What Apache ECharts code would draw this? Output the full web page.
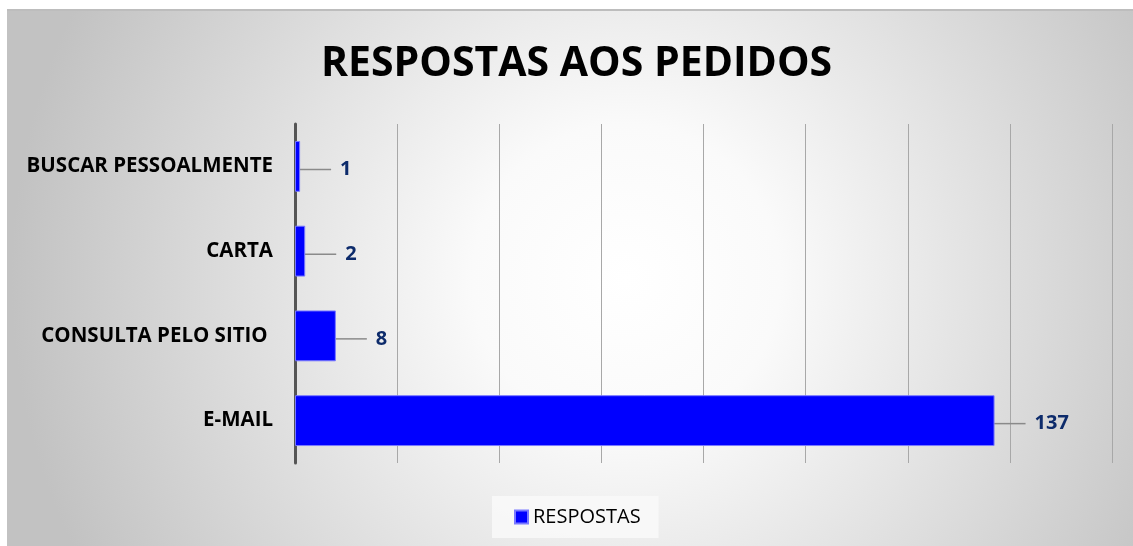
<!DOCTYPE html>
<html>
<head>
<meta charset="utf-8">
<script src="https://cdn.jsdelivr.net/npm/echarts@6/dist/echarts.min.js"></script>
<style>
  html, body { margin: 0; padding: 0; background: #ffffff; }
  #chart {
    position: absolute; left: 7px; top: 9px;
    width: 1126px; height: 537px;
    border-top: 2px solid #bdbdbd;
    box-sizing: border-box;
  }
</style>
</head>
<body>
<div id="chart"></div>
<script>
// Response channels (top to bottom as listed)
const categories = ['BUSCAR PESSOALMENTE', 'CARTA', 'CONSULTA PELO SITIO ', 'E-MAIL'];
const respostas = [1, 2, 8, 137];
const seriesName = 'RESPOSTAS';
const titleText = 'RESPOSTAS AOS PEDIDOS';

const FONT = '"Open Sans", "Noto Sans", sans-serif';

const chart = echarts.init(document.getElementById('chart'));
chart.setOption({
  backgroundColor: {
    type: 'radial', x: 0.55, y: 0.5, r: 1.15,
    colorStops: [
      { offset: 0, color: '#ffffff' },
      { offset: 0.25, color: '#fafafa' },
      { offset: 1, color: '#c2c2c2' }
    ]
  },
  title: {
    text: titleText,
    left: 309,
    top: 28,
    textStyle: { fontFamily: FONT, fontWeight: 'bold', fontSize: 41, color: '#000000' }
  },
  legend: {
    bottom: 8,
    left: 485,
    padding: [11, 18, 11, 22],
    backgroundColor: 'rgba(248,248,248,0.9)',
    itemWidth: 13,
    itemHeight: 13,
    itemGap: 6,
    icon: 'rect',
    textStyle: { fontFamily: FONT, fontSize: 20, color: '#000000' },
    data: [seriesName]
  },
  grid: { left: 288, right: 21, top: 113, bottom: 83, containLabel: false },
  xAxis: {
    type: 'value',
    min: 0, max: 160, interval: 20,
    axisLabel: { show: false },
    axisTick: { show: false },
    axisLine: { show: false },
    splitLine: { show: true, lineStyle: { color: '#a8a8a8', width: 1 } }
  },
  yAxis: {
    type: 'category',
    inverse: true,
    data: categories,
    axisTick: { show: false },
    axisLine: { show: true, lineStyle: { color: '#555555', width: 3 } },
    axisLabel: {
      margin: 22,
      fontFamily: FONT, fontWeight: 'bold', fontSize: 20.5, color: '#000000'
    }
  },
  series: [{
    name: seriesName,
    type: 'bar',
    data: respostas,
    barCategoryGap: '40%',
    itemStyle: { color: '#0000ff', borderColor: '#7a7aff', borderWidth: 1 },
    label: {
      show: true,
      position: 'right',
      distance: 5,
      formatter: '{gap|}{v|{c}}',
      rich: {
        gap: { width: 9 },
        v: { fontFamily: FONT, fontWeight: 'bold', fontSize: 20, color: '#0d2b6b' }
      }
    },
    labelLayout: { dx: 26, dy: 3 },
    labelLine: { show: true, lineStyle: { color: '#8a8a8a', width: 1.5 } }
  }]
});
</script>
</body>
</html>
